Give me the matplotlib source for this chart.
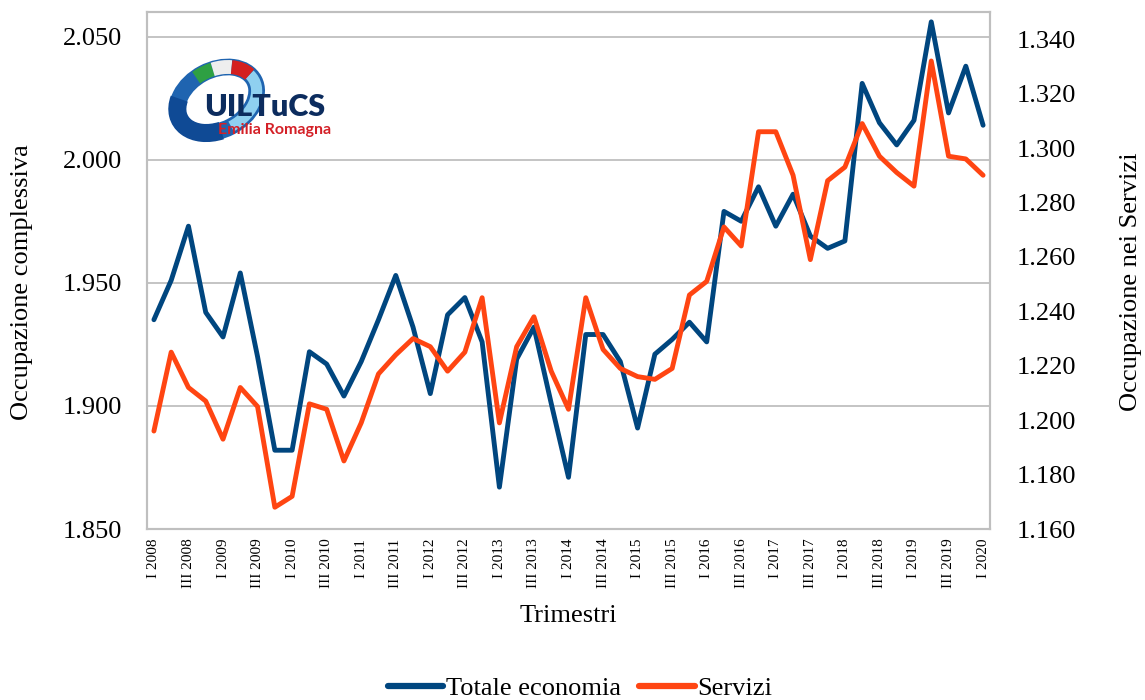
import numpy as np
import matplotlib.pyplot as plt
from matplotlib.patches import Ellipse, Arc
from matplotlib.ticker import FormatStrFormatter

plt.rcParams['font.family'] = 'Liberation Serif'
plt.rcParams['font.size'] = 19

years = list(range(2008, 2021))
quarters = [f'{q} {y}' for y in years for q in ['I', 'II', 'III', 'IV']][:49]
shown_labels = [q if q.split()[0] in ('I', 'III') else '' for q in quarters]

totale = [1.935, 1.951, 1.973, 1.938, 1.928, 1.954, 1.920, 1.882, 1.882, 1.922,
          1.917, 1.904, 1.918, 1.935, 1.953, 1.932, 1.905, 1.937, 1.944, 1.926,
          1.867, 1.919, 1.932, 1.901, 1.871, 1.929, 1.929, 1.918, 1.891, 1.921,
          1.927, 1.934, 1.926, 1.979, 1.975, 1.989, 1.973, 1.986, 1.969, 1.964,
          1.967, 2.031, 2.015, 2.006, 2.016, 2.056, 2.019, 2.038, 2.014]
servizi = [1.196, 1.225, 1.212, 1.207, 1.193, 1.212, 1.205, 1.168, 1.172, 1.206,
           1.204, 1.185, 1.199, 1.217, 1.224, 1.230, 1.227, 1.218, 1.225, 1.245,
           1.199, 1.227, 1.238, 1.218, 1.204, 1.245, 1.226, 1.219, 1.216, 1.215,
           1.219, 1.246, 1.251, 1.271, 1.264, 1.306, 1.306, 1.290, 1.259, 1.288,
           1.293, 1.309, 1.297, 1.291, 1.286, 1.332, 1.297, 1.296, 1.290]

blue = '#00467f'
orange = '#ff4512'
grid_col = '#bfbfbf'

W, H = 1145, 700
fig = plt.figure(figsize=(W / 100, H / 100), dpi=100)
ax = fig.add_axes([147 / W, 1 - 529 / H, (990 - 147) / W, (529 - 12) / H])
ax2 = ax.twinx()

x = np.arange(len(quarters))
l1, = ax.plot(x, totale, color=blue, lw=3.5, solid_joinstyle='round', solid_capstyle='round',
              label='Totale economia', zorder=3)
l2, = ax2.plot(x, servizi, color=orange, lw=3.5, solid_joinstyle='round', solid_capstyle='round',
               label='Servizi', zorder=3)

ax.set_xlim(-0.4, len(quarters) - 0.6)
ax.set_ylim(1.85, 2.06)
ax.set_yticks(np.arange(1.85, 2.051, 0.05))
ax.yaxis.set_major_formatter(FormatStrFormatter('%.3f'))
ax2.set_ylim(1.16, 1.35)
ax2.set_yticks(np.arange(1.16, 1.341, 0.02))
ax2.yaxis.set_major_formatter(FormatStrFormatter('%.3f'))

ax.set_xticks(x)
ax.set_xticklabels(shown_labels, rotation=90, fontsize=11)
ax.tick_params(axis='x', length=0, pad=7)
ax.tick_params(axis='y', length=0, pad=18, labelsize=19)
ax2.tick_params(axis='y', length=0, pad=19, labelsize=19)

ax.grid(axis='y', color=grid_col, lw=1.3)
ax.set_axisbelow(True)
for a in (ax, ax2):
    for s in a.spines.values():
        s.set_color(grid_col)
        s.set_linewidth(1.5)

ax.set_xlabel('Trimestri', fontsize=19, labelpad=12)
fig.text(22 / W, 1 - 282 / H, 'Occupazione complessiva', rotation=90, ha='center', va='center', fontsize=19)
fig.text(1131 / W, 1 - 282 / H, 'Occupazione nei Servizi', rotation=90, ha='center', va='center', fontsize=19)

leg = fig.legend([l1, l2], ['Totale economia', 'Servizi'], loc='center', bbox_to_anchor=(580 / W, 1 - 688 / H),
                 ncol=2, frameon=False, handlelength=2.1, handletextpad=0.1, columnspacing=0.7, fontsize=19)
for ln in leg.get_lines():
    ln.set_linewidth(4.5)
    ln.set_solid_capstyle('round')

# logo
lg = fig.add_axes([168 / W, 1 - 148 / H, 175 / W, 95 / H])
lg.set_xlim(0, 175)
lg.set_ylim(0, 95)
lg.axis('off')
c, w, h, ang = (49, 48), 84, 60, 28
lg.add_patch(Ellipse(c, w, h, angle=ang, fill=False, ec='#1f64b0', lw=12))
lg.add_patch(Arc(c, w, h, angle=ang, theta1=150, theta2=250, color='#0f4a95', lw=13))
lg.add_patch(Arc(c, w, h, angle=ang, theta1=-90, theta2=10, color='#8fd0f0', lw=8))
lg.add_patch(Arc(c, w, h, angle=ang, theta1=70, theta2=105, color='#2ea043', lw=10))
lg.add_patch(Arc(c, w, h, angle=ang, theta1=38, theta2=70, color='#eeeeee', lw=10))
lg.add_patch(Arc(c, w, h, angle=ang, theta1=10, theta2=38, color='#d42020', lw=10))
lg.text(97, 41, 'UILTuCS', family='Lato', weight='heavy', color='#0c2c5e', fontsize=22,
        ha='center', va='center')
lg.text(107, 18, 'Emilia Romagna', family='Lato', weight='bold', color='#d42027', fontsize=11.5,
        ha='center', va='center')

fig.savefig('out.png', dpi=100)
